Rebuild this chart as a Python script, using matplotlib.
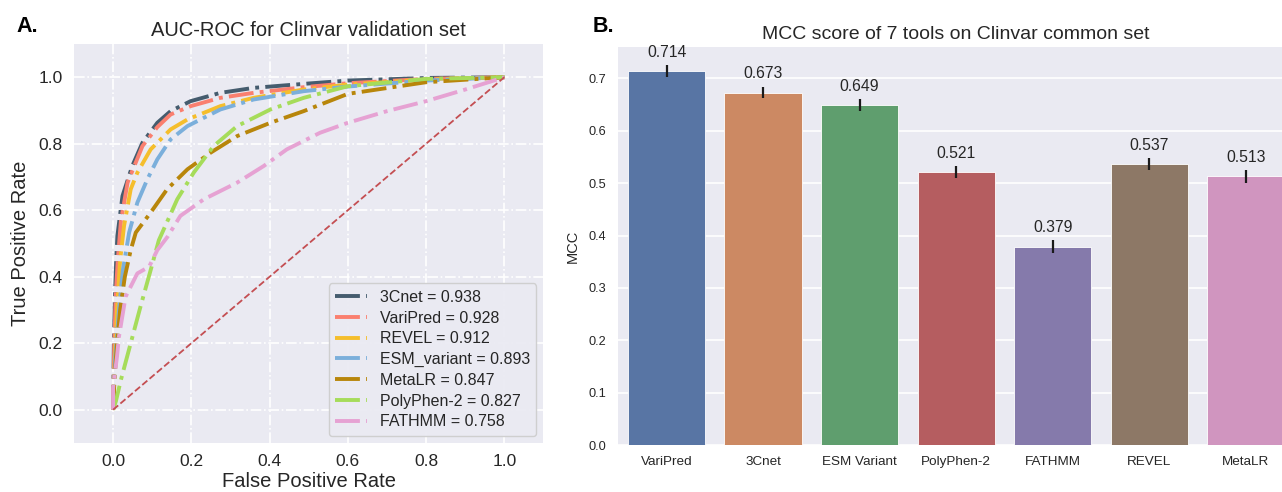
import matplotlib
matplotlib.use("Agg")
import matplotlib.pyplot as plt

plt.rcParams['font.family'] = ['Liberation Sans', 'DejaVu Sans']

# ---------------- Panel A data (ROC curves) ----------------
roc_names = ["3Cnet", "VariPred", "REVEL", "ESM_variant", "MetaLR", "PolyPhen-2", "FATHMM"]
roc_auc = [0.938, 0.928, 0.912, 0.893, 0.847, 0.827, 0.758]

cnet_fpr = [0, 0.002, 0.005, 0.008, 0.011, 0.024, 0.049, 0.075, 0.113, 0.147, 0.198, 0.274, 0.359, 0.487, 0.6, 0.81, 1.0]
cnet_tpr = [0, 0.2, 0.35, 0.45, 0.523, 0.643, 0.733, 0.803, 0.863, 0.898, 0.928, 0.953, 0.968, 0.98, 0.99, 0.998, 1.0]

varipred_fpr = [0, 0.003, 0.007, 0.012, 0.02, 0.037, 0.075, 0.113, 0.147, 0.198, 0.274, 0.359, 0.487, 0.6, 0.8, 1.0]
varipred_tpr = [0, 0.2, 0.35, 0.45, 0.568, 0.683, 0.793, 0.85, 0.888, 0.913, 0.938, 0.953, 0.97, 0.982, 0.995, 1.0]

revel_fpr = [0, 0.004, 0.01, 0.018, 0.028, 0.045, 0.062, 0.096, 0.147, 0.19, 0.274, 0.359, 0.487, 0.6, 0.8, 1.0]
revel_tpr = [0, 0.15, 0.3, 0.45, 0.553, 0.663, 0.713, 0.783, 0.843, 0.873, 0.913, 0.938, 0.963, 0.978, 0.993, 1.0]

esm_fpr = [0, 0.005, 0.015, 0.025, 0.041, 0.062, 0.0875, 0.113, 0.147, 0.19, 0.274, 0.359, 0.487, 0.6, 0.8, 1.0]
esm_tpr = [0, 0.15, 0.3, 0.42, 0.533, 0.623, 0.693, 0.753, 0.813, 0.853, 0.903, 0.933, 0.958, 0.972, 0.99, 1.0]

metalr_fpr = [0, 0.004, 0.01, 0.018, 0.03, 0.045, 0.058, 0.096, 0.138, 0.19, 0.249, 0.317, 0.402, 0.487, 0.6, 0.8, 1.0]
metalr_tpr = [0, 0.1, 0.2, 0.3, 0.4, 0.48, 0.533, 0.593, 0.663, 0.723, 0.773, 0.823, 0.863, 0.898, 0.95, 0.985, 1.0]

polyphen_fpr = [0, 0.007, 0.02, 0.045, 0.07, 0.096, 0.117, 0.164, 0.206, 0.257, 0.317, 0.402, 0.487, 0.6, 0.8, 1.0]
polyphen_tpr = [0, 0.025, 0.09, 0.2, 0.31, 0.42, 0.51, 0.633, 0.713, 0.793, 0.853, 0.903, 0.938, 0.973, 0.995, 1.0]

fathmm_fpr = [0, 0.0, 0.003, 0.01, 0.015, 0.032, 0.062, 0.092, 0.113, 0.139, 0.172, 0.232, 0.317, 0.385, 0.444, 0.529, 0.6, 0.7, 0.8, 0.9, 1.0]
fathmm_tpr = [0, 0.065, 0.095, 0.16, 0.22, 0.34, 0.41, 0.43, 0.48, 0.52, 0.583, 0.633, 0.683, 0.733, 0.783, 0.833, 0.863, 0.898, 0.928, 0.963, 1.0]

roc_fprs = [cnet_fpr, varipred_fpr, revel_fpr, esm_fpr, metalr_fpr, polyphen_fpr, fathmm_fpr]
roc_tprs = [cnet_tpr, varipred_tpr, revel_tpr, esm_tpr, metalr_tpr, polyphen_tpr, fathmm_tpr]
roc_colors = ["#455c6e", "#fa7f6f", "#f5be2c", "#7bafdb", "#b8860b", "#a6dc5a", "#e6a2d3"]

# ---------------- Panel B data (MCC bars) ----------------
mcc_tools = ["VariPred", "3Cnet", "ESM Variant", "PolyPhen-2", "FATHMM", "REVEL", "MetaLR"]
mcc_values = [0.714, 0.673, 0.649, 0.521, 0.379, 0.537, 0.513]
mcc_errors = [0.011, 0.010, 0.012, 0.012, 0.013, 0.011, 0.012]
mcc_colors = ["#5875a4", "#cc8963", "#5f9e6e", "#b55d60", "#857aab", "#8d7866", "#d095bf"]

BG = "#eaeaf2"
TXT = "#262626"

fig = plt.figure(figsize=(12.82, 4.92), dpi=100)
fig.patch.set_facecolor("white")

# ---------------- Panel A ----------------
axA = fig.add_axes([0.0577, 0.0996, 0.3662, 0.811])
axA.set_facecolor(BG)
for s in axA.spines.values():
    s.set_visible(False)
axA.grid(True, color="white", linestyle="-.", linewidth=1.2)
axA.set_axisbelow(True)
for name, auc, fx, ty, c in zip(roc_names, roc_auc, roc_fprs, roc_tprs, roc_colors):
    axA.plot(fx, ty, linestyle="-.", color=c, linewidth=2.8, label=f"{name} = {auc:.3f}")
axA.plot([0, 1], [0, 1], linestyle="--", color="#c44e52", linewidth=1.3)
axA.set_xlim(-0.1, 1.1)
axA.set_ylim(-0.1, 1.1)
axA.set_xticks([0.0, 0.2, 0.4, 0.6, 0.8, 1.0])
axA.set_yticks([0.0, 0.2, 0.4, 0.6, 0.8, 1.0])
axA.tick_params(length=0, labelsize=12.5, colors=TXT, pad=8)
axA.set_xlabel("False Positive Rate", fontsize=14.5, color=TXT, labelpad=2)
axA.set_ylabel("True Positive Rate", fontsize=14.5, color=TXT, labelpad=6)
axA.set_title("AUC-ROC for Clinvar validation set", fontsize=14.5, color=TXT, pad=6)
leg = axA.legend(loc="lower right", fontsize=11.5, labelspacing=0.36, handlelength=2.0,
                 borderaxespad=0.45, frameon=True, fancybox=True)
leg.get_frame().set_facecolor(BG)
leg.get_frame().set_edgecolor("#cccccc")
leg.get_frame().set_alpha(0.9)
for t in leg.get_texts():
    t.set_color(TXT)

# ---------------- Panel B ----------------
axB = fig.add_axes([0.4823, 0.0955, 0.527, 0.809])
axB.set_facecolor(BG)
for s in axB.spines.values():
    s.set_visible(False)
axB.yaxis.grid(True, color="white", linewidth=1.2)
axB.set_axisbelow(True)
xpos = list(range(len(mcc_tools)))
axB.bar(xpos, mcc_values, width=0.8, color=mcc_colors, edgecolor="white", linewidth=0.6)
axB.errorbar(xpos, mcc_values, yerr=mcc_errors, fmt="none", ecolor="#1a1a1a", elinewidth=1.6, capsize=0)
for x, v in zip(xpos, mcc_values):
    axB.annotate(f"{v:.3f}", xy=(x, v), xytext=(0, 8), textcoords="offset points",
                 ha="center", va="bottom", fontsize=11.3, color=TXT)
axB.set_xlim(-0.5, len(mcc_tools) - 0.5)
axB.set_ylim(0, 0.76)
ytick_vals = [0.0, 0.1, 0.2, 0.3, 0.4, 0.5, 0.6, 0.7]
axB.set_yticks(ytick_vals)
axB.set_yticklabels([f"{t:.1f}" for t in ytick_vals])
axB.set_xticks(xpos)
axB.set_xticklabels(mcc_tools)
axB.tick_params(axis="y", length=0, labelsize=9.2, colors=TXT, pad=9)
axB.tick_params(axis="x", length=0, labelsize=9.7, colors=TXT, pad=8)
axB.set_ylabel("MCC", fontsize=10.5, color=TXT, labelpad=6)
axB.set_title("MCC score of 7 tools on Clinvar common set", fontsize=14, color=TXT, pad=6)

# Panel letters
fig.text(0.013, 0.947, "A.", fontsize=15.5, fontweight="bold", color="black", va="center", ha="left")
fig.text(0.462, 0.947, "B.", fontsize=15.5, fontweight="bold", color="black", va="center", ha="left")

fig.savefig("out.png", dpi=100, facecolor="white")
